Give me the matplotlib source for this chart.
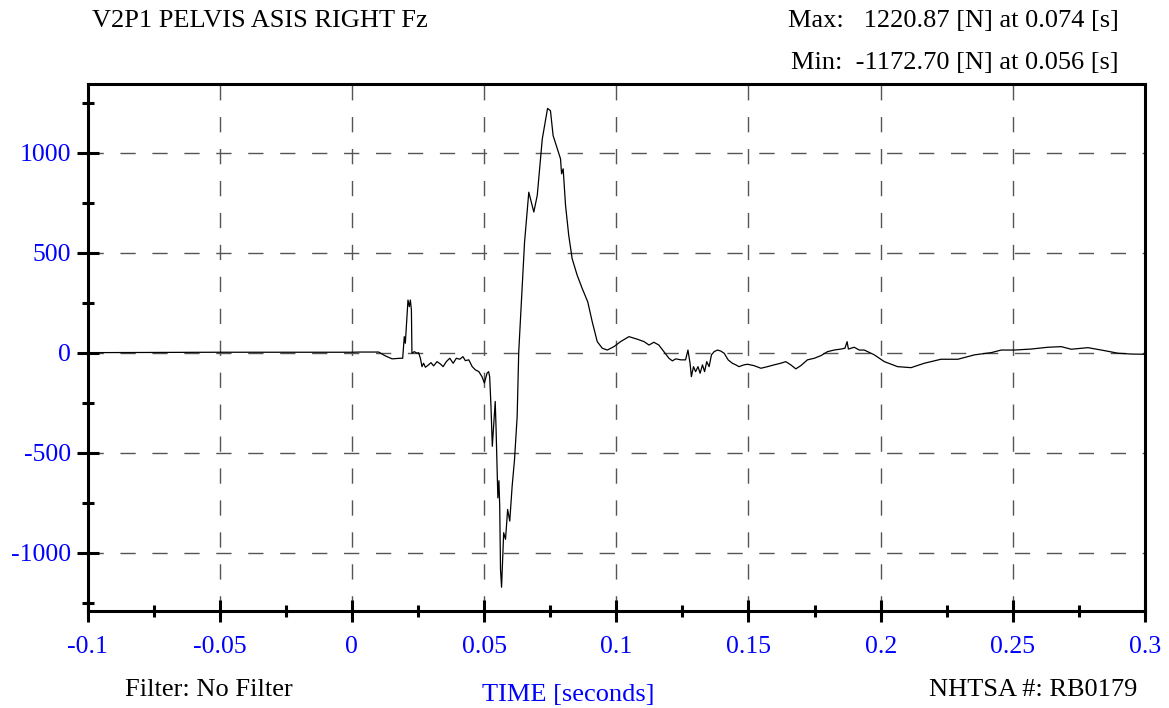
import matplotlib.pyplot as plt
from matplotlib.ticker import MultipleLocator, FuncFormatter

plt.rcParams['font.family'] = ['Liberation Serif', 'DejaVu Serif']

# Time [s] and force [N]
t = [-0.1, -0.05, 0.0, 0.0031, 0.0101, 0.0126, 0.0152, 0.0183, 0.0192, 0.0198,
     0.0202, 0.0212, 0.0217, 0.0221, 0.0225, 0.0227, 0.0236, 0.0246, 0.0252, 0.0259,
     0.0265, 0.0271, 0.0278, 0.0290, 0.0299, 0.0309, 0.0322, 0.0334, 0.0345, 0.0357,
     0.0370, 0.0383, 0.0395, 0.0408, 0.0420, 0.0429, 0.0442, 0.0455, 0.0467, 0.0480,
     0.0492, 0.0501, 0.0511, 0.0517, 0.0521, 0.0526, 0.0531, 0.0542, 0.0545, 0.0549,
     0.0552, 0.0556, 0.0559, 0.0562, 0.0566, 0.0574, 0.0581, 0.0589, 0.0597, 0.0606,
     0.0615, 0.0625, 0.0631, 0.0653, 0.0669, 0.0688, 0.0701, 0.0720, 0.0740, 0.0751,
     0.0761, 0.0777, 0.0789, 0.0793, 0.0799, 0.0808, 0.0820, 0.0833, 0.0852, 0.0871,
     0.0892, 0.0909, 0.0928, 0.0947, 0.0966, 0.0991, 0.1016, 0.1048, 0.1080, 0.1105,
     0.1124, 0.1142, 0.1161, 0.1180, 0.1199, 0.1212, 0.1225, 0.1244, 0.1262, 0.1271,
     0.1279, 0.1284, 0.1292, 0.1300, 0.1309, 0.1317, 0.1326, 0.1334, 0.1342, 0.1351,
     0.1360, 0.1370, 0.1383, 0.1395, 0.1408, 0.1423, 0.1439, 0.1452, 0.1464, 0.1483,
     0.1496, 0.1521, 0.1547, 0.1572, 0.1597, 0.1622, 0.1641, 0.1660, 0.1679, 0.1698,
     0.1723, 0.1749, 0.1774, 0.1799, 0.1824, 0.1850, 0.1865, 0.1873, 0.1878, 0.1900,
     0.1919, 0.1938, 0.1976, 0.2014, 0.2064, 0.2115, 0.2165, 0.2228, 0.2292, 0.2355,
     0.2418, 0.2456, 0.2506, 0.2569, 0.2633, 0.2683, 0.2721, 0.2784, 0.2847, 0.2898,
     0.2948, 0.2998]
force = [0, 2, 2, 3, 3, -16, -31, -28, -28, 80,
         47, 263, 230, 263, 213, -3, 5, -3, 0, -28,
         -70, -53, -73, -61, -50, -66, -45, -56, -70, -45,
         -28, -53, -28, -33, -20, -40, -36, -70, -86, -95,
         -120, -152, -103, -95, -120, -269, -468, -244, -369, -584,
         -726, -640, -767, -1083, -1172.70, -900, -933, -784, -842, -668,
         -535, -319, 5, 553, 802, 703, 786, 1068, 1220.87, 1209,
         1085, 1019, 969, 894, 919, 736, 587, 470, 387, 321,
         254, 154, 55, 22, 13, 30, 55, 80, 67, 55,
         38, 52, 38, 5, -28, -41, -31, -36, -36, 13,
         -53, -120, -70, -95, -70, -103, -61, -95, -45, -70,
         -11, 5, 13, 8, -3, -36, -53, -61, -70, -61,
         -58, -65, -78, -70, -61, -53, -45, -61, -81, -65,
         -36, -28, -15, 5, 13, 18, 22, 55, 18, 27,
         13, 13, -11, -45, -70, -75, -53, -33, -33, -11,
         0, 13, 13, 18, 27, 30, 17, 25, 10, -3,
         -7, -8]

fig = plt.figure(figsize=(11.69, 7.08), dpi=100)
ax = fig.add_axes([0.0749, 0.1374, 0.9046, 0.744])

ax.plot(t, force, color='black', lw=0.9)

ax.set_xlim(-0.1, 0.3)
ax.set_ylim(-1290, 1343)

ax.xaxis.set_major_locator(MultipleLocator(0.05))
ax.xaxis.set_minor_locator(MultipleLocator(0.025))
ax.yaxis.set_major_locator(MultipleLocator(500))
ax.yaxis.set_minor_locator(MultipleLocator(250))
ax.xaxis.set_major_formatter(FuncFormatter(lambda v, p: '%g' % round(v, 3)))
ax.yaxis.set_major_formatter(FuncFormatter(lambda v, p: '%d' % v))

ax.grid(True, which='major', color='#555555', lw=1.0, linestyle=(0, (11, 12)))

for side in ['left', 'bottom', 'right', 'top']:
    ax.spines[side].set_linewidth(2.2)
ax.tick_params(which='major', direction='inout', length=16, width=2.2,
               labelsize=18.5, labelcolor='blue')
ax.tick_params(axis='y', which='major', pad=4)
ax.tick_params(axis='x', which='major', pad=10)
ax.tick_params(which='minor', direction='inout', length=8, width=2.2)
ax.tick_params(top=False, right=False, which='both')

fig.text(0.079, 0.970, 'V2P1 PELVIS ASIS RIGHT Fz', fontsize=19, va='center', ha='left')
fig.text(0.957, 0.970, 'Max:   1220.87 [N] at 0.074 [s]', fontsize=19, va='center', ha='right')
fig.text(0.957, 0.911, 'Min:  -1172.70 [N] at 0.056 [s]', fontsize=19, va='center', ha='right')
fig.text(0.107, 0.026, 'Filter: No Filter', fontsize=19, va='center', ha='left')
fig.text(0.486, 0.018, 'TIME [seconds]', fontsize=19, va='center', ha='center', color='blue')
fig.text(0.973, 0.026, 'NHTSA #: RB0179', fontsize=19, va='center', ha='right')

fig.savefig('out.png', dpi=100)
